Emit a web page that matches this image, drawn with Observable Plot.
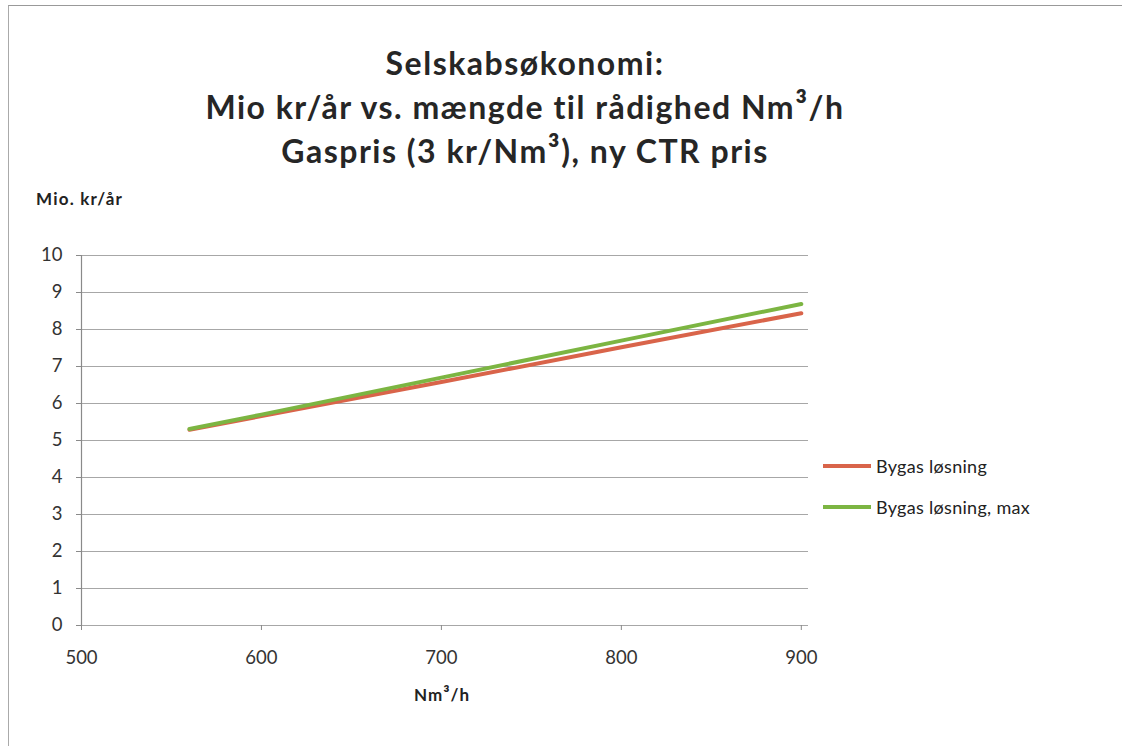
<!DOCTYPE html>
<html>
<head>
<meta charset="utf-8">
<script src="https://cdn.jsdelivr.net/npm/d3@7"></script>
<script src="https://cdn.jsdelivr.net/npm/@observablehq/plot@0.6"></script>
<style>
  html, body { margin: 0; padding: 0; background: #fff; }
  #wrap { position: relative; width: 1122px; height: 746px; overflow: hidden; font-family: Lato, "Open Sans", sans-serif; color: #222; }
  #frame { position: absolute; left: 8px; top: 5px; width: 1120px; height: 745px; border-left: 1px solid #aaa; border-top: 1px solid #999; }
  #title { position: absolute; left: 25px; width: 1000px; top: 41px; text-align: center; font-weight: bold; font-size: 32px; letter-spacing: 1.5px; line-height: 44px; color: #262626; }
  .sup { font-size: 1.12em; line-height: 0; }
  #ylab { position: absolute; left: 36px; top: 188px; font-size: 17px; letter-spacing: 1.2px; font-weight: bold; color: #222; }
  #xlab { position: absolute; left: 342px; width: 200px; top: 684px; text-align: center; font-size: 17px; letter-spacing: 1px; font-weight: bold; color: #222; }
  #chart { position: absolute; left: 0; top: 230px; }
  #legend { position: absolute; left: 823px; top: 455px; font-size: 18px; letter-spacing: 0.3px; color: #222; }
  .li { display: flex; align-items: center; height: 22px; margin-bottom: 19px; }
  .sw { width: 48px; height: 4px; margin-right: 5px; }
</style>
</head>
<body>
<div id="wrap">
  <div id="frame"></div>
  <div id="title">Selskabsøkonomi:<br>Mio kr/år vs. mængde til rådighed Nm<span class="sup">³</span>/h<br>Gaspris (3 kr/Nm<span class="sup">³</span>), ny CTR pris</div>
  <div id="ylab">Mio. kr/år</div>
  <div id="chart"></div>
  <div id="xlab">Nm<span class="sup">³</span>/h</div>
  <div id="legend"></div>
</div>
<script>
const seriesNames = ["Bygas løsning", "Bygas løsning, max"];
const seriesColors = ["#d9644a", "#7cb542"];
const xValues = [560, 600, 700, 800, 900];
const bygas = [5.29, 5.66, 6.58, 7.52, 8.44];
const bygasMax = [5.31, 5.70, 6.70, 7.70, 8.69];
const xTicks = [500, 600, 700, 800, 900];
const yTicks = [0, 1, 2, 3, 4, 5, 6, 7, 8, 9, 10];

const data = [];
xValues.forEach((x, i) => {
  data.push({series: seriesNames[0], x, y: bygas[i]});
  data.push({series: seriesNames[1], x, y: bygasMax[i]});
});

const chart = Plot.plot({
  width: 830,
  height: 480,
  marginLeft: 81,
  marginRight: 22,
  marginTop: 25,
  marginBottom: 85,
  style: {fontFamily: "Lato, 'Open Sans', sans-serif", fontSize: "18.5px", color: "#333", background: "transparent"},
  x: {domain: [500, 904]},
  y: {domain: [0, 10]},
  color: {domain: seriesNames, range: seriesColors},
  marks: [
    Plot.gridY(yTicks, {stroke: "#8a8a8a", strokeOpacity: 0.75, strokeWidth: 1.2}),
    Plot.axisY(yTicks, {tickSize: 5, tickPadding: 14, stroke: "#8a8a8a", fontSize: 18.5, label: null, fill: "#333"}),
    Plot.axisX(xTicks, {tickSize: 5, tickPadding: 20, stroke: "#8a8a8a", fontSize: 18.5, label: null, fill: "#333"}),
    Plot.ruleX([500], {stroke: "#8a8a8a", strokeWidth: 1.2}),
    Plot.line(data, {x: "x", y: "y", z: "series", stroke: "series", strokeWidth: 4})
  ]
});
document.getElementById("chart").appendChild(chart);

const legend = document.getElementById("legend");
seriesNames.forEach((n, i) => {
  const row = document.createElement("div");
  row.className = "li";
  const sw = document.createElement("div");
  sw.className = "sw";
  sw.style.background = seriesColors[i];
  const t = document.createElement("span");
  t.textContent = n;
  row.appendChild(sw);
  row.appendChild(t);
  legend.appendChild(row);
});
</script>
</body>
</html>
